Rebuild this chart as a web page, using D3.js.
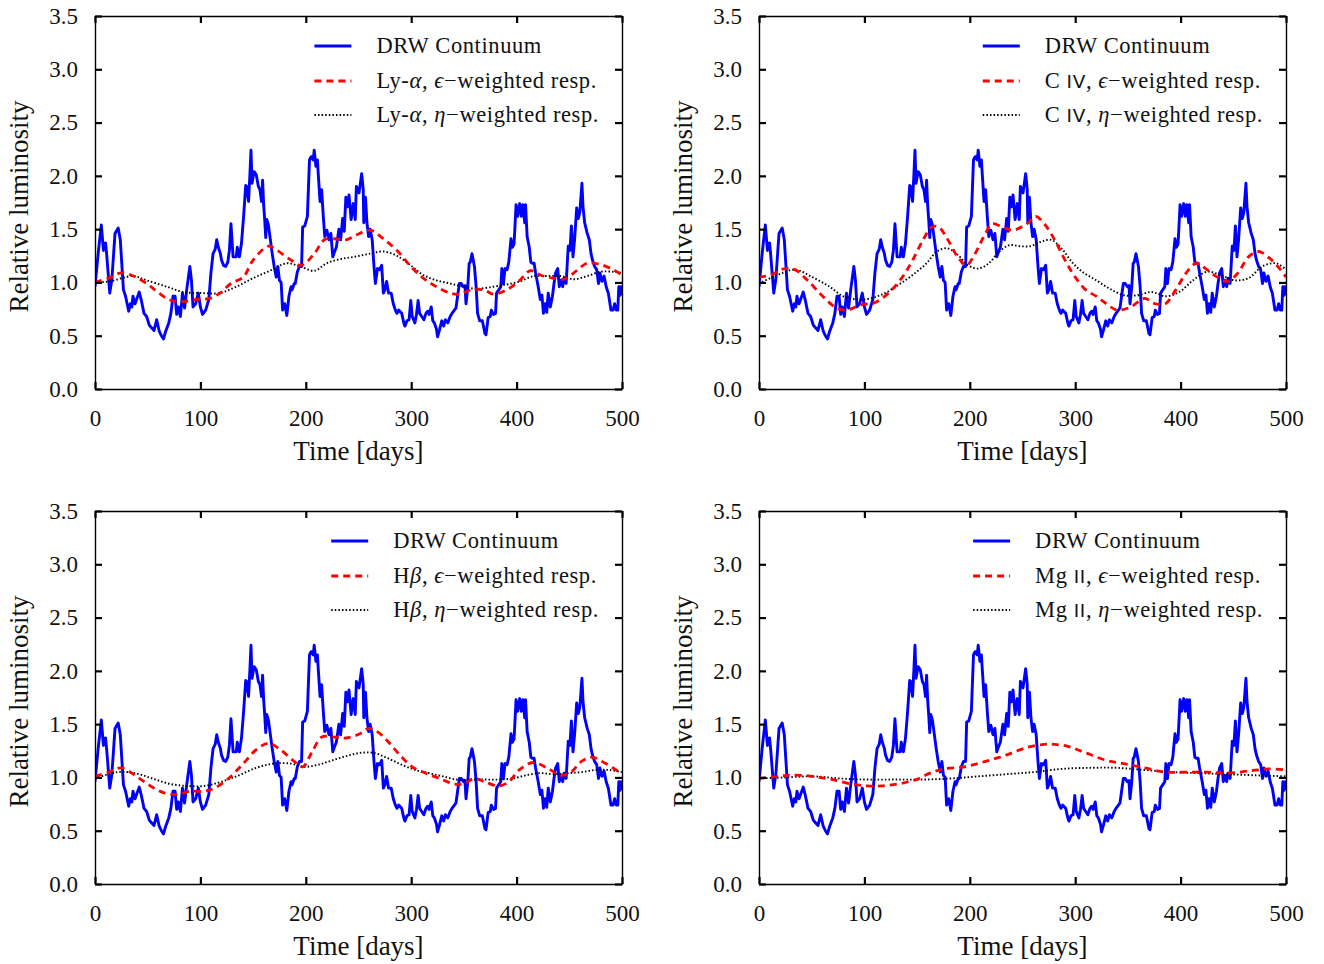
<!DOCTYPE html>
<html><head><meta charset="utf-8">
<script src="https://cdn.jsdelivr.net/npm/d3@7"></script>
<style>
body{margin:0;background:#fff}
svg text{font-family:"Liberation Serif","Times New Roman",serif;fill:#111}
</style>
</head><body>
<svg id="chart" width="1324" height="964"></svg>
<script>
// ---- DATA: [time (days), relative luminosity] ----
const continuum = [[0,0.96],[3,1.27],[6,1.54],[8,1.30],[10,1.37],[11,1.27],[14,0.90],[16,1.03],[19,1.46],[22,1.51],[24,1.40],[27,0.93],[29,0.87],[32,0.73],[33.5,0.80],[35,0.77],[36,0.87],[38,0.80],[42,0.91],[44,0.83],[46.5,0.71],[49,0.68],[51.5,0.60],[54,0.57],[56,0.55],[58.5,0.65],[61,0.54],[63,0.50],[65,0.47],[67,0.54],[70,0.62],[72,0.71],[74,0.87],[76,0.87],[77.5,0.70],[79,0.77],[81,0.68],[83,0.90],[85,0.76],[87,0.93],[90,1.15],[91.5,1.02],[93,0.77],[95.5,0.80],[98,0.90],[100,0.77],[102,0.70],[105,0.74],[108,0.84],[110,1.09],[112,1.27],[114,1.31],[115.5,1.40],[117,1.33],[119,1.27],[120,1.21],[122,1.16],[124,1.15],[126,1.19],[127.5,1.30],[129,1.55],[131,1.24],[134,1.24],[135,1.33],[137,1.24],[139,1.37],[141,1.62],[143,1.91],[144,1.90],[145.7,1.76],[147,2.02],[148,2.24],[149,1.93],[151,2.04],[153,2.01],[155,1.90],[156.5,1.87],[158,1.76],[159,1.96],[160,1.73],[161,1.59],[162,1.42],[163,1.59],[164.5,1.54],[166,1.43],[168,1.28],[170,1.15],[172,1.05],[173.5,1.15],[175,1.02],[176.6,1.00],[178,0.74],[180,0.80],[182,0.69],[184,0.87],[186,0.96],[187,0.93],[189,0.99],[190,0.99],[192,1.10],[194,1.15],[196,1.15],[197,1.52],[199,1.53],[201.5,1.62],[203.5,2.15],[205,2.18],[207,2.15],[208,2.24],[209.6,2.09],[211,2.15],[212,1.99],[213.5,1.76],[215,1.87],[216.6,1.62],[218,1.43],[220,1.49],[222,1.40],[223.8,1.46],[225.6,1.24],[227.7,1.30],[229,1.33],[231.4,1.50],[233,1.40],[235,1.60],[236.5,1.48],[238,1.80],[239.6,1.71],[241,1.82],[243,1.59],[245,1.74],[246.9,1.59],[248,1.90],[249.5,1.87],[250.5,1.84],[253,2.02],[254.5,1.87],[255,1.56],[256.6,1.80],[258,1.56],[259.6,1.43],[261,1.50],[263,1.40],[264.7,1.15],[266,0.99],[268,1.13],[270,1.12],[272,1.16],[273.6,0.90],[275,0.93],[276.7,1.01],[278.5,0.90],[281,0.90],[283,0.80],[285,0.74],[286.5,0.71],[288,0.74],[291,0.71],[293,0.62],[294,0.59],[296,0.64],[298,0.65],[299.6,0.83],[301,0.68],[303.5,0.62],[305,0.70],[306.6,0.83],[308,0.71],[310,0.68],[312,0.65],[314,0.71],[315.6,0.73],[317,0.70],[319,0.77],[320.5,0.64],[322,0.62],[324,0.56],[325,0.49],[327,0.56],[329,0.64],[330.8,0.59],[332.5,0.65],[334.7,0.62],[337,0.68],[338.7,0.71],[341,0.74],[342.5,0.76],[344,0.87],[345.7,0.99],[347.5,0.99],[349.5,0.96],[351,0.97],[352,0.80],[353.7,0.96],[355,1.18],[356,1.19],[357.7,1.27],[360,1.15],[361.6,0.96],[363,0.71],[365,0.64],[367.5,0.64],[370,0.52],[371,0.51],[373,0.67],[375,0.68],[376,0.74],[378,0.70],[380,0.71],[381,0.90],[383,0.93],[385,0.96],[386,1.13],[387.5,0.99],[389,1.13],[391,1.12],[392.6,1.19],[394.7,1.41],[396,1.33],[397.6,1.36],[399.5,1.73],[401,1.62],[403,1.74],[404.5,1.62],[406,1.73],[407.7,1.56],[408.5,1.73],[410,1.43],[412,1.33],[413.5,1.19],[415,1.18],[416.6,1.18],[418,1.09],[420.5,0.96],[422.5,0.84],[424,0.88],[425.5,0.71],[427,0.80],[428.6,0.72],[430,0.90],[432,0.77],[434,0.87],[435.5,0.99],[437,1.09],[439,1.13],[440.5,0.96],[442,1.02],[443.7,0.96],[445,1.04],[447,0.99],[449,1.34],[450.6,1.30],[452,1.53],[453.5,1.24],[455,1.40],[457,1.70],[458.6,1.60],[460,1.66],[462,1.93],[463,1.71],[464.6,1.56],[467,1.46],[469,1.40],[470.6,1.27],[472,1.21],[474,1.15],[476,1.12],[477.7,0.99],[479,1.09],[481,1.01],[483,1.06],[485,0.96],[487,0.90],[488,0.84],[489.5,0.74],[491.5,0.74],[493,0.80],[494.6,0.74],[496,0.74],[497,0.96],[498,0.88],[499,0.96],[500,0.88]];

const lyaEps = [[0,1.00],[14,1.045],[25,1.09],[36.6,1.06],[49,0.99],[60.6,0.90],[71,0.835],[83,0.82],[96,0.84],[108.6,0.85],[118.6,0.90],[129,0.99],[140.7,1.05],[150,1.21],[164.5,1.34],[171.5,1.31],[186,1.21],[196,1.16],[208,1.27],[217.6,1.40],[227,1.41],[238,1.40],[248,1.445],[261,1.49],[273.5,1.41],[286.5,1.30],[299.6,1.15],[311.5,1.04],[324,0.96],[337,0.90],[346,0.89],[356.6,0.93],[369,0.93],[378,0.89],[390.6,0.93],[403,1.02],[413,1.11],[422.5,1.07],[434,1.04],[445,1.03],[457,1.11],[466.6,1.18],[479,1.17],[491.6,1.12],[500,1.07]];
const lyaEta = [[0,1.00],[14,1.01],[36,1.06],[49,1.02],[68,0.96],[84,0.91],[102,0.90],[118,0.90],[134,0.96],[150,1.04],[166,1.11],[182,1.18],[194.6,1.15],[208,1.11],[220,1.18],[233,1.22],[246,1.24],[261,1.27],[273.5,1.29],[286.5,1.25],[299.6,1.16],[311.5,1.07],[324,1.02],[337,0.99],[349.5,0.96],[362,0.94],[378,0.96],[390.6,0.98],[403,1.01],[416.5,1.06],[429,1.06],[442,1.06],[454.6,1.03],[467,1.06],[479.6,1.10],[492,1.10],[500,1.09]];

const civEps = [[0,1.05],[11,1.07],[24.3,1.13],[34,1.12],[47,1.01],[60.4,0.87],[73.6,0.76],[83.4,0.74],[96.6,0.79],[109.7,0.81],[122.8,0.90],[136,1.05],[145.8,1.21],[155.7,1.40],[164,1.52],[170.5,1.52],[178.6,1.41],[188.5,1.24],[196.7,1.16],[205,1.27],[214.8,1.46],[221.4,1.55],[231,1.52],[241,1.49],[254,1.55],[262.4,1.62],[270.6,1.55],[280.5,1.40],[290.3,1.21],[300,1.05],[310,0.93],[320,0.87],[329.7,0.80],[339.6,0.74],[352.7,0.77],[365.8,0.85],[375.7,0.80],[385.5,0.80],[395.4,0.93],[405.3,1.09],[415,1.18],[425,1.12],[434.8,1.05],[444.7,1.01],[454.5,1.09],[464.4,1.24],[474.2,1.29],[484,1.23],[494,1.13],[500,1.05]];
const civEta = [[0,0.99],[17.7,1.07],[34,1.12],[50.6,1.05],[67,0.96],[80,0.87],[93.3,0.84],[106,0.85],[119.5,0.90],[132.7,0.98],[145.8,1.07],[159,1.18],[168.8,1.29],[178.6,1.32],[188.5,1.26],[198.4,1.16],[208.2,1.13],[218,1.18],[227.9,1.29],[237.8,1.35],[247.6,1.34],[257.5,1.34],[267.3,1.38],[277,1.40],[287,1.32],[297,1.19],[306.7,1.10],[320,1.02],[333,0.94],[346,0.88],[359.3,0.88],[372.4,0.91],[385.5,0.87],[398.7,0.91],[411.8,1.02],[425,1.10],[438,1.07],[451,1.02],[464.4,1.04],[477.5,1.15],[490.6,1.18],[500,1.12]];

const hbEps = [[0,1.01],[13.3,1.05],[24.8,1.09],[38,1.02],[51,0.93],[64.2,0.86],[77.4,0.84],[90.5,0.87],[103.6,0.87],[113.5,0.90],[126.6,0.99],[139.8,1.12],[153,1.26],[164.4,1.32],[176,1.26],[189,1.15],[197.2,1.10],[205.4,1.23],[215.3,1.38],[225,1.38],[238.3,1.37],[251.4,1.41],[259.6,1.46],[267.8,1.43],[277.7,1.34],[287.5,1.23],[300.7,1.10],[313.8,1.04],[327,0.99],[340,0.94],[350,0.94],[359.8,0.99],[369.6,0.96],[382.8,0.92],[392.6,0.96],[402.5,1.07],[415.6,1.14],[428.8,1.09],[442,1.02],[451.7,1.05],[461.6,1.15],[471.5,1.19],[484.6,1.13],[494.5,1.07],[500,1.04]];
const hbEta = [[0,0.99],[21.5,1.05],[38,1.04],[54.4,0.99],[70.8,0.94],[87.2,0.92],[103.6,0.92],[120,0.96],[136.5,1.02],[153,1.09],[169.3,1.13],[185.7,1.13],[198.9,1.10],[212,1.12],[225,1.16],[238.3,1.20],[251.4,1.23],[264.5,1.23],[277.7,1.18],[290.8,1.12],[304,1.07],[317,1.04],[330,1.01],[343.4,0.98],[356.5,0.98],[369.6,0.98],[382.8,0.98],[395.9,0.99],[409,1.02],[422,1.04],[435.3,1.03],[448.5,1.04],[461.6,1.05],[474.7,1.07],[487.9,1.07],[500,1.05]];

const mgEps = [[0,0.99],[17.7,1.01],[27.6,1.02],[40.7,1.02],[57,1.00],[70.3,0.98],[86.7,0.94],[103,0.92],[116.3,0.92],[132.7,0.94],[149,0.98],[162.2,1.04],[175.4,1.08],[195,1.10],[214.8,1.15],[234.5,1.21],[254,1.28],[270.6,1.31],[280.5,1.31],[293.6,1.29],[310,1.23],[329.7,1.16],[346,1.13],[365.8,1.09],[385.5,1.05],[405.2,1.05],[425,1.05],[444.7,1.04],[464.4,1.06],[484,1.08],[500,1.07]];
const mgEta = [[0,0.99],[24.3,1.00],[50.6,1.01],[77,0.99],[103,0.98],[129.4,0.98],[155.7,0.98],[182,0.99],[208,1.01],[234.5,1.03],[260.7,1.05],[287,1.08],[313.3,1.09],[339.6,1.09],[365.8,1.07],[392,1.05],[418.4,1.04],[444.7,1.03],[471,1.02],[500,1.01]];

const xTicks = [0,100,200,300,400,500];
const yTicks = [0,0.5,1.0,1.5,2.0,2.5,3.0,3.5];

// legend labels: segments [text, style] where style: "" normal, "i" italic, "s" sans small caps
const lines = [
  {name:"Ly", label:[["Ly-",""],["α","i"]], eps:lyaEps, eta:lyaEta, left:95, top:16},
  {name:"CIV", label:[["C ",""],["IV","s"]], eps:civEps, eta:civEta, left:759, top:16},
  {name:"Hb", label:[["H",""],["β","i"]], eps:hbEps, eta:hbEta, left:95, top:511},
  {name:"MgII", label:[["Mg ",""],["II","s"]], eps:mgEps, eta:mgEta, left:759, top:511}
];

// ---- DRAWING ----
const W = 527, H = 373;
const svg = d3.select("#chart");
const x = d3.scaleLinear().domain([0,500]).range([0,W]);
const y = d3.scaleLinear().domain([0,3.5]).range([H,0]);

const lineGen = d3.line().x(d=>x(d[0])).y(d=>y(d[1]));
const smoothGen = d3.line().x(d=>x(d[0])).y(d=>y(d[1])).curve(d3.curveCatmullRom.alpha(0.5));

function addSegments(textSel, segs){
  segs.forEach(([t,s])=>{
    const ts = textSel.append("tspan").text(t);
    if(s==="i") ts.attr("font-style","italic");
    if(s==="s") ts.attr("font-family","DejaVu Sans").attr("font-size","0.82em");
  });
}

lines.forEach((p,pi)=>{
  const g = svg.append("g").attr("transform",`translate(${p.left},${p.top})`);
  const clipId = "clip"+pi;
  g.append("clipPath").attr("id",clipId).append("rect").attr("width",W).attr("height",H);

  const plot = g.append("g").attr("clip-path",`url(#${clipId})`);
  plot.append("path").datum(continuum).attr("d",lineGen)
    .attr("fill","none").attr("stroke","#0000ff").attr("stroke-width",2.9).attr("stroke-linejoin","round");
  plot.append("path").datum(p.eta).attr("d",smoothGen)
    .attr("fill","none").attr("stroke","#000").attr("stroke-width",1.9).attr("stroke-dasharray","1.5,2.1");
  plot.append("path").datum(p.eps).attr("d",smoothGen)
    .attr("fill","none").attr("stroke","#ff0000").attr("stroke-width",2.8).attr("stroke-dasharray","7,5");

  // axes (ticks inward on all four sides)
  const styleAxis = sel=>{
    sel.selectAll("path.domain").attr("stroke","#000").attr("stroke-width",1.4);
    sel.selectAll(".tick line").attr("stroke","#000").attr("stroke-width",2.2);
    sel.selectAll(".tick text").attr("font-size",23).attr("font-family","Liberation Serif").attr("fill","#111");
  };
  g.append("g").attr("transform",`translate(0,${H})`)
    .call(d3.axisBottom(x).tickValues(xTicks).tickFormat(d3.format("d")).tickSizeInner(-7).tickSizeOuter(0).tickPadding(21))
    .call(styleAxis);
  g.append("g")
    .call(d3.axisTop(x).tickValues(xTicks).tickFormat("").tickSizeInner(-7).tickSizeOuter(0))
    .call(styleAxis);
  g.append("g")
    .call(d3.axisLeft(y).tickValues(yTicks).tickFormat(d3.format(".1f")).tickSizeInner(-7).tickSizeOuter(0).tickPadding(17))
    .call(styleAxis);
  g.append("g").attr("transform",`translate(${W},0)`)
    .call(d3.axisRight(y).tickValues(yTicks).tickFormat("").tickSizeInner(-7).tickSizeOuter(0))
    .call(styleAxis);

  // axis titles
  g.append("text").attr("x",W/2).attr("y",H+71).attr("text-anchor","middle")
    .attr("font-size",27).text("Time [days]");
  g.append("text").attr("transform",`translate(${-67},${H/2+4}) rotate(-90)`)
    .attr("text-anchor","middle").attr("font-size",27).text("Relative luminosity");

  // legend
  const leg = g.append("g");
  const rows = [
    {segs:[["DRW Continuum",""]], color:"#0000ff", dash:null, w:2.9},
    {segs:p.label.concat([[", ",""],["ϵ","i"],["−weighted resp.",""]]), color:"#ff0000", dash:"7,5", w:2.8},
    {segs:p.label.concat([[", ",""],["η","i"],["−weighted resp.",""]]), color:"#000", dash:"1.5,2.1", w:1.9}
  ];
  const rowY = [30,65,99];
  const texts = rows.map((r,i)=>{
    const t = leg.append("text").attr("y",rowY[i]+7).attr("font-size",22.5).attr("letter-spacing",0.6);
    addSegments(t,r.segs);
    return t;
  });
  const maxW = d3.max(texts,t=>t.node().getComputedTextLength());
  const tx = W - 23 - maxW;
  texts.forEach(t=>t.attr("x",tx));
  rows.forEach((r,i)=>{
    const l = leg.append("line").attr("x1",tx-62).attr("x2",tx-25).attr("y1",rowY[i]).attr("y2",rowY[i])
      .attr("stroke",r.color).attr("stroke-width",r.w);
    if(r.dash) l.attr("stroke-dasharray",r.dash);
  });
});
</script>
</body></html>
